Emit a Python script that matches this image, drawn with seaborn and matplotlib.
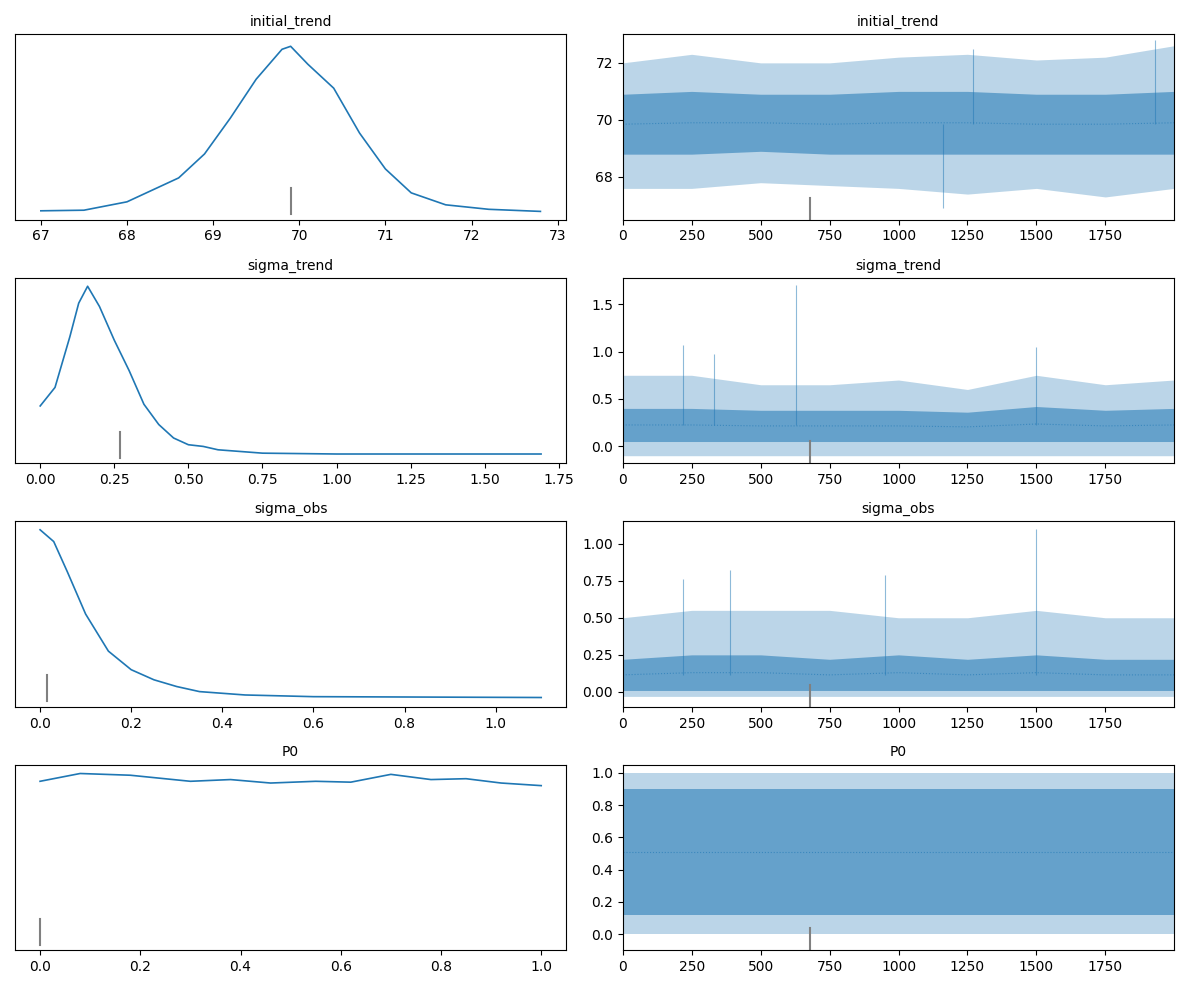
import matplotlib
matplotlib.use("Agg")
import matplotlib.pyplot as plt
import seaborn as sns
import numpy as np
import pandas as pd

names = ["initial_trend", "sigma_trend", "sigma_obs", "P0"]

# KDE curves (x, relative density)
kde_x = {
    "initial_trend": [67, 67.5, 68, 68.3, 68.6, 68.9, 69.2, 69.5, 69.8, 69.9, 70.1, 70.4, 70.7, 71.0, 71.3, 71.7, 72.2, 72.8],
    "sigma_trend": [0, 0.05, 0.1, 0.13, 0.16, 0.2, 0.25, 0.3, 0.35, 0.4, 0.45, 0.5, 0.55, 0.6, 0.75, 1.0, 1.69],
    "sigma_obs": [0, 0.03, 0.06, 0.1, 0.15, 0.2, 0.25, 0.3, 0.35, 0.45, 0.6, 1.1],
    "P0": [0, 0.08, 0.18, 0.3, 0.38, 0.46, 0.55, 0.62, 0.7, 0.78, 0.85, 0.92, 1.0],
}
kde_y = {
    "initial_trend": [0.01, 0.012, 0.04, 0.08, 0.12, 0.2, 0.32, 0.45, 0.55, 0.56, 0.5, 0.42, 0.27, 0.15, 0.07, 0.03, 0.015, 0.008],
    "sigma_trend": [0.29, 0.4, 0.7, 0.9, 1.0, 0.88, 0.68, 0.5, 0.3, 0.18, 0.1, 0.06, 0.05, 0.03, 0.01, 0.005, 0.005],
    "sigma_obs": [1.0, 0.93, 0.75, 0.5, 0.28, 0.17, 0.11, 0.07, 0.04, 0.02, 0.01, 0.005],
    "P0": [0.955, 1.0, 0.99, 0.955, 0.965, 0.945, 0.955, 0.95, 0.995, 0.965, 0.97, 0.945, 0.93],
}
kde_xlim = {"initial_trend": (66.7, 73.1), "sigma_trend": (-0.085, 1.775), "sigma_obs": (-0.055, 1.155), "P0": (-0.05, 1.05)}
kde_ylim = {"initial_trend": (-0.02, 0.6), "sigma_trend": (-0.05, 1.05), "sigma_obs": (-0.05, 1.05), "P0": (-0.02, 1.05)}
kde_marker = {"initial_trend": 69.9, "sigma_trend": 0.27, "sigma_obs": 0.015, "P0": 0.0}

# Trace envelopes, at draws 0,250,...,2000
draw_pts = [0, 250, 500, 750, 1000, 1250, 1500, 1750, 1999]
outer_lo = {
    "initial_trend": [67.6, 67.6, 67.8, 67.7, 67.6, 67.4, 67.6, 67.3, 67.6],
    "sigma_trend": [-0.1, -0.1, -0.1, -0.1, -0.1, -0.1, -0.1, -0.1, -0.1],
    "sigma_obs": [-0.03, -0.03, -0.03, -0.03, -0.03, -0.03, -0.03, -0.03, -0.03],
    "P0": [0.0, 0.0, 0.0, 0.0, 0.0, 0.0, 0.0, 0.0, 0.0],
}
outer_hi = {
    "initial_trend": [72.0, 72.3, 72.0, 72.0, 72.2, 72.3, 72.1, 72.2, 72.6],
    "sigma_trend": [0.75, 0.75, 0.65, 0.65, 0.7, 0.6, 0.75, 0.65, 0.7],
    "sigma_obs": [0.5, 0.55, 0.55, 0.55, 0.5, 0.5, 0.55, 0.5, 0.5],
    "P0": [1.0, 1.0, 1.0, 1.0, 1.0, 1.0, 1.0, 1.0, 1.0],
}
inner_lo = {
    "initial_trend": [68.8, 68.8, 68.9, 68.8, 68.8, 68.8, 68.8, 68.8, 68.8],
    "sigma_trend": [0.05, 0.05, 0.05, 0.05, 0.05, 0.05, 0.05, 0.05, 0.05],
    "sigma_obs": [0.01, 0.01, 0.01, 0.01, 0.01, 0.01, 0.01, 0.01, 0.01],
    "P0": [0.12, 0.12, 0.12, 0.12, 0.12, 0.12, 0.12, 0.12, 0.12],
}
inner_hi = {
    "initial_trend": [70.9, 71.0, 70.9, 70.9, 71.0, 71.0, 70.9, 70.9, 71.0],
    "sigma_trend": [0.4, 0.4, 0.38, 0.38, 0.38, 0.36, 0.42, 0.38, 0.4],
    "sigma_obs": [0.22, 0.25, 0.25, 0.22, 0.25, 0.22, 0.25, 0.22, 0.22],
    "P0": [0.9, 0.9, 0.9, 0.9, 0.9, 0.9, 0.9, 0.9, 0.9],
}
trace_ylim = {"initial_trend": (66.5, 73.0), "sigma_trend": (-0.18, 1.78), "sigma_obs": (-0.1, 1.15), "P0": (-0.1, 1.05)}
# Notable spikes (draw, value)
spike_draw = {"initial_trend": [1160, 1930, 1270], "sigma_trend": [630, 220, 1500, 330], "sigma_obs": [1500, 220, 390, 950], "P0": []}
spike_val = {"initial_trend": [66.9, 72.8, 72.5], "sigma_trend": [1.7, 1.07, 1.05, 0.97], "sigma_obs": [1.1, 0.76, 0.82, 0.79], "P0": []}
trace_marker = 680

col = "#1f77b4"
fig, axes = plt.subplots(4, 2, figsize=(11.89, 9.89), dpi=100)
for i, n in enumerate(names):
    ax = axes[i, 0]
    sns.lineplot(x=kde_x[n], y=kde_y[n], ax=ax, color=col, lw=1.2)
    ax.set_xlim(*kde_xlim[n]); ax.set_ylim(*kde_ylim[n])
    lo, hi = kde_ylim[n]
    ax.axvline(kde_marker[n], ymin=0.0 + (0 - lo) / (hi - lo) * 0 + 0.03, ymax=0.17, color="gray", lw=1.5)
    ax.set_yticks([]); ax.set_title(n, fontsize=10); ax.set_xlabel(""); ax.set_ylabel("")

    ax = axes[i, 1]
    ax.fill_between(draw_pts, outer_lo[n], outer_hi[n], color=col, alpha=0.3, lw=0)
    ax.fill_between(draw_pts, inner_lo[n], inner_hi[n], color=col, alpha=0.55, lw=0)
    center = [(a + b) / 2 for a, b in zip(inner_lo[n], inner_hi[n])]
    sns.lineplot(x=draw_pts, y=center, ax=ax, color=col, alpha=0.6, lw=0.8, ls=":")
    for d, v in zip(spike_draw[n], spike_val[n]):
        base = (inner_lo[n][0] + inner_hi[n][0]) / 2
        ax.vlines(d, min(base, v), max(base, v), color=col, alpha=0.5, lw=0.8)
    ax.set_xlim(0, 1999); ax.set_ylim(*trace_ylim[n])
    ax.set_xticks([0, 250, 500, 750, 1000, 1250, 1500, 1750])
    ax.axvline(trace_marker, ymin=0, ymax=0.12, color="gray", lw=1.5)
    ax.set_title(n, fontsize=10)

axes[1, 1].set_yticks([0.0, 0.5, 1.0, 1.5])
axes[2, 1].set_yticks([0.0, 0.25, 0.5, 0.75, 1.0])
axes[3, 1].set_yticks([0.0, 0.2, 0.4, 0.6, 0.8, 1.0])
axes[0, 1].set_yticks([68, 70, 72])
plt.tight_layout()
fig.savefig("out.png")
